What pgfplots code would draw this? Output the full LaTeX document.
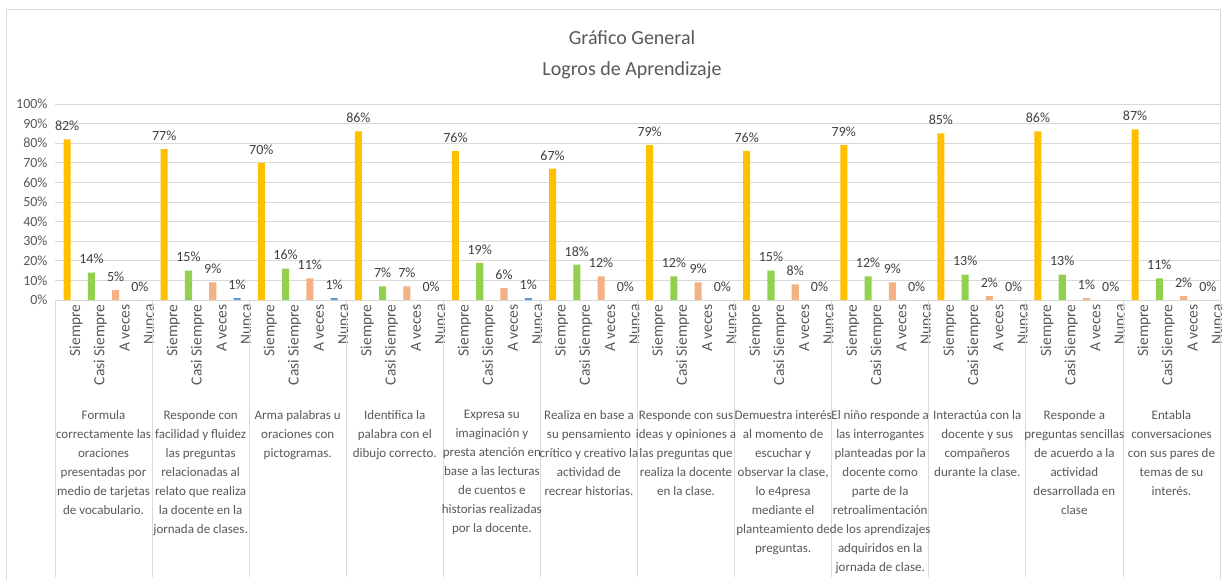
\documentclass[border=0pt]{standalone}
\usepackage{pgfplots}
\pgfplotsset{compat=1.18}
\usepackage{pgfplotstable}
\usepackage{fontspec}
\setmainfont{Carlito}
\definecolor{cS}{HTML}{FFC000}
\definecolor{cC}{HTML}{92D050}
\definecolor{cA}{HTML}{F4B183}
\definecolor{cN}{HTML}{5B9BD5}
\definecolor{txt}{HTML}{595959}
\definecolor{lab}{HTML}{404040}
\definecolor{grd}{HTML}{D9D9D9}
\tikzset{glab/.style={anchor=north, yshift=-110pt, align=center, font=\fontsize{13}{19}\selectfont, text=txt, inner sep=0pt}}

\pgfplotstableread{
g s c a n
0 82 14 5 0
1 77 15 9 1
2 70 16 11 1
3 86 7 7 0
4 76 19 6 1
5 67 18 12 0
6 79 12 9 0
7 76 15 8 0
8 79 12 9 0
9 85 13 2 0
10 86 13 1 0
11 87 11 2 0
}\data

\begin{document}
\begin{tikzpicture}
\useasboundingbox (-55pt,-279pt) rectangle (1172pt,300pt);
\fill[white] (-55pt,-279pt) rectangle (1172pt,300pt);
\draw[grd, line width=1pt] (-48pt,290pt) rectangle (1165pt,-300pt);
\node[font=\fontsize{20}{20}\selectfont, text=txt] at (577pt,262pt) {Gráfico General};
\node[font=\fontsize{20}{20}\selectfont, text=txt] at (577pt,230pt) {Logros de Aprendizaje};
\begin{axis}[
  scale only axis, width=1165pt, height=196pt,
  clip=false,
  xmin=-0.5, xmax=47.5, ymin=0, ymax=100,
  ybar, bar width=0.29, bar shift=0pt,
  axis x line*=bottom, axis y line*=left,
  x axis line style={draw=grd, line width=0.8pt, -},
  y axis line style={draw=none},
  xtick style={draw=none}, ytick style={draw=none},
  ymajorgrids, grid style={draw=grd, line width=0.8pt},
  ytick={0,10,...,100},
  /pgf/number format/assume math mode=true,
  yticklabel={\pgfmathprintnumber{\tick}\%},
  yticklabel style={font=\fontsize{14}{14}\selectfont, text=txt, xshift=-4pt},
  xtick={0,...,47},
  xticklabels={Siempre,Casi Siempre,A veces,Nunca,Siempre,Casi Siempre,A veces,Nunca,Siempre,Casi Siempre,A veces,Nunca,Siempre,Casi Siempre,A veces,Nunca,Siempre,Casi Siempre,A veces,Nunca,Siempre,Casi Siempre,A veces,Nunca,Siempre,Casi Siempre,A veces,Nunca,Siempre,Casi Siempre,A veces,Nunca,Siempre,Casi Siempre,A veces,Nunca,Siempre,Casi Siempre,A veces,Nunca,Siempre,Casi Siempre,A veces,Nunca,Siempre,Casi Siempre,A veces,Nunca},
  xticklabel style={rotate=90, anchor=east, font=\fontsize{15.5}{15.5}\selectfont, text=txt, inner sep=0pt, yshift=-9pt},
  nodes near coords={\pgfmathprintnumber{\pgfplotspointmeta}\%},
  point meta=y,
  every node near coord/.append style={font=\fontsize{14}{14}\selectfont, text=lab, yshift=5pt},
]
\addplot[fill=cS, draw=none] table[x expr=4*\thisrow{g}, y=s]{\data};
\addplot[fill=cC, draw=none] table[x expr=4*\thisrow{g}+1, y=c]{\data};
\addplot[fill=cA, draw=none] table[x expr=4*\thisrow{g}+2, y=a]{\data};
\addplot[fill=cN, draw=none] table[x expr=4*\thisrow{g}+3, y=n]{\data};

\pgfplotsinvokeforeach{-0.5,3.5,7.5,11.5,15.5,19.5,23.5,27.5,31.5,35.5,39.5,43.5,47.5}{
  \draw[grd, line width=0.8pt] (axis cs:#1,0) -- ++(0pt,-277pt);
}

\node[glab] at (axis cs:1.5,0) {Formula\\correctamente las\\oraciones\\presentadas por\\medio de tarjetas\\de vocabulario.};
\node[glab] at (axis cs:5.5,0) {Responde con\\facilidad y fluidez\\las preguntas\\relacionadas al\\relato que realiza\\la docente en la\\jornada de clases.};
\node[glab] at (axis cs:9.5,0) {Arma palabras u\\oraciones con\\pictogramas.};
\node[glab] at (axis cs:13.5,0) {Identifica la\\palabra con el\\dibujo correcto.};
\node[glab] at (axis cs:17.5,0) {Expresa su\\imaginación y\\presta atención en\\base a las lecturas\\de cuentos e\\historias realizadas\\por la docente.};
\node[glab] at (axis cs:21.5,0) {Realiza en base a\\su pensamiento\\crítico y creativo la\\actividad de\\recrear historias.};
\node[glab] at (axis cs:25.5,0) {Responde con sus\\ideas y opiniones a\\las preguntas que\\realiza la docente\\en la clase.};
\node[glab] at (axis cs:29.5,0) {Demuestra interés\\al momento de\\escuchar y\\observar la clase,\\lo e4presa\\mediante el\\planteamiento de\\preguntas.};
\node[glab] at (axis cs:33.5,0) {El niño responde a\\las interrogantes\\planteadas por la\\docente como\\parte de la\\retroalimentación\\de los aprendizajes\\adquiridos en la\\jornada de clase.};
\node[glab] at (axis cs:37.5,0) {Interactúa con la\\docente y sus\\compañeros\\durante la clase.};
\node[glab] at (axis cs:41.5,0) {Responde a\\preguntas sencillas\\de acuerdo a la\\actividad\\desarrollada en\\clase};
\node[glab] at (axis cs:45.5,0) {Entabla\\conversaciones\\con sus pares de\\temas de su\\interés.};
\end{axis}
\end{tikzpicture}
\end{document}
